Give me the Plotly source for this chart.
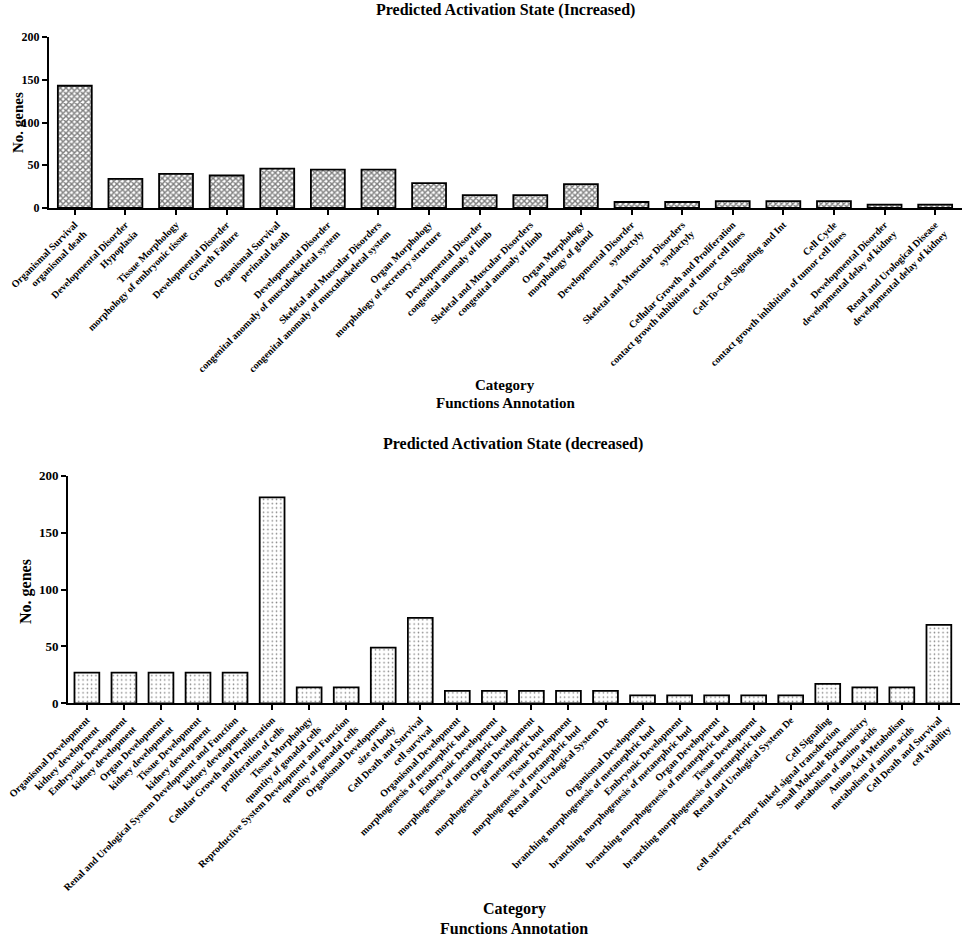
import plotly.graph_objects as go

W, H = 964, 939

# ---------------- data ----------------
inc_line1 = ["Organismal Survival", "Developmental Disorder", "Tissue Morphology",
             "Developmental Disorder", "Organismal Survival", "Developmental Disorder",
             "Skeletal and Muscular Disorders", "Organ Morphology", "Developmental Disorder",
             "Skeletal and Muscular Disorders", "Organ Morphology", "Developmental Disorder",
             "Skeletal and Muscular Disorders", "Cellular Growth and Proliferation",
             "Cell-To-Cell Signaling and Int", "Cell Cycle", "Developmental Disorder",
             "Renal and Urological Disease"]
inc_line2 = ["organismal death", "Hypoplasia", "morphology of embryonic tissue",
             "Growth Failure", "perinatal death", "congenital anomaly of musculoskeletal system",
             "congenital anomaly of musculoskeletal system", "morphology of secretory structure",
             "congenital anomaly of limb", "congenital anomaly of limb", "morphology of gland",
             "syndactyly", "syndactyly", "contact growth inhibition of tumor cell lines",
             "", "contact growth inhibition of tumor cell lines",
             "developmental delay of kidney", "developmental delay of kidney"]
inc_values = [143, 34, 40, 38, 46, 45, 45, 29, 15, 15, 28, 7, 7, 8, 8, 8, 4, 4]

dec_line1 = ["Organismal Development", "Embryonic Development", "Organ Development",
             "Tissue Development", "Renal and Urological System Development and Function",
             "Cellular Growth and Proliferation", "Tissue Morphology",
             "Reproductive System Development and Function", "Organismal Development",
             "Cell Death and Survival", "Organismal Development", "Embryonic Development",
             "Organ Development", "Tissue Development", "Renal and Urological System De",
             "Organismal Development", "Embryonic Development", "Organ Development",
             "Tissue Development", "Renal and Urological System De", "Cell Signaling",
             "Small Molecule Biochemistry", "Amino Acid Metabolism", "Cell Death and Survival"]
dec_line2 = ["kidney development", "kidney development", "kidney development",
             "kidney development", "kidney development", "proliferation of cells",
             "quantity of gonadal cells", "quantity of gonadal cells", "size of body",
             "cell survival", "morphogenesis of metanephric bud", "morphogenesis of metanephric bud",
             "morphogenesis of metanephric bud", "morphogenesis of metanephric bud", "",
             "branching morphogenesis of metanephric bud", "branching morphogenesis of metanephric bud",
             "branching morphogenesis of metanephric bud", "branching morphogenesis of metanephric bud",
             "", "cell surface receptor linked signal transduction", "metabolism of amino acids",
             "metabolism of amino acids", "cell viability"]
dec_values = [27, 27, 27, 27, 27, 181, 14, 14, 49, 75, 11, 11, 11, 11, 11,
              7, 7, 7, 7, 7, 17, 14, 14, 69]

y_ticks = [0, 50, 100, 150, 200]


def join(a, b):
    return a if not b else a + "<br>" + b


inc_labels = [join(a, b) for a, b in zip(inc_line1, inc_line2)]
dec_labels = [join(a, b) for a, b in zip(dec_line1, dec_line2)]
inc_x = list(range(len(inc_values)))
dec_x = list(range(len(dec_values)))

FONT = "Liberation Serif"


def px_x(p):
    return p / W


def px_y(p):
    return 1 - p / H


fig = go.Figure()
fig.add_trace(go.Bar(
    x=inc_x, y=inc_values, width=0.67, xaxis="x", yaxis="y",
    marker=dict(color="white",
                line=dict(color="black", width=1.8),
                pattern=dict(shape="x", fgcolor="black", bgcolor="white",
                             size=4, solidity=0.6, fillmode="overlay")),
    showlegend=False))
fig.add_trace(go.Bar(
    x=dec_x, y=dec_values, width=0.67, xaxis="x2", yaxis="y2",
    marker=dict(color="white",
                line=dict(color="black", width=1.8),
                pattern=dict(shape=".", fgcolor="black", bgcolor="white",
                             size=4.3, solidity=0.1, fillmode="overlay")),
    showlegend=False))

axis_common = dict(showline=True, linecolor="black", linewidth=2, showgrid=False,
                   zeroline=False, ticks="outside", tickcolor="black", tickwidth=1.5,
                   automargin=False,
                   tickfont=dict(family=FONT, size=10, color="black", weight="bold"))

fig.update_layout(
    template="none",
    width=W, height=H,
    margin=dict(l=0, r=0, t=0, b=0, pad=0),
    paper_bgcolor="white", plot_bgcolor="white",
    bargap=0.33,
    xaxis=dict(domain=[px_x(49), px_x(962)], range=[-0.51, 17.53],
               tickmode="array", tickvals=inc_x, ticktext=inc_labels,
               tickangle=-45, ticklen=5, anchor="y", **axis_common),
    yaxis=dict(domain=[px_y(208), px_y(37)], range=[0, 200],
               tickmode="array", tickvals=y_ticks, ticklen=5, anchor="x",
               **{**axis_common, "tickfont": dict(family=FONT, size=12, color="black", weight="bold")}),
    xaxis2=dict(domain=[px_x(68), px_x(960)], range=[-0.51, 23.57],
                tickmode="array", tickvals=dec_x, ticktext=dec_labels,
                tickangle=-45, ticklen=5, anchor="y2", **axis_common),
    yaxis2=dict(domain=[px_y(703.3), px_y(475.7)], range=[0, 200],
                tickmode="array", tickvals=y_ticks, ticklen=5, anchor="x2",
                **{**axis_common, "tickfont": dict(family=FONT, size=13, color="black", weight="bold")}),
)

def ann(text, x, y, size, angle=0):
    fig.add_annotation(text=text, x=px_x(x), y=px_y(y), xref="paper", yref="paper",
                       showarrow=False, textangle=angle, xanchor="center", yanchor="middle",
                       font=dict(family=FONT, size=size, color="black", weight="bold"))

ann("Predicted Activation State (Increased)", 505, 10, 16)
ann("No. genes", 18, 123, 15, -90)
ann("Category", 505, 385, 15)
ann("Functions Annotation", 505, 403, 15)

ann("Predicted Activation State (decreased)", 513, 444, 16)
ann("No. genes", 26, 592, 16, -90)
ann("Category", 514, 909, 16)
ann("Functions Annotation", 514, 928, 16)

fig.write_html("out.html", config={"displayModeBar": False},
               post_script="document.body.style.margin='0';document.body.style.overflow='hidden';")
